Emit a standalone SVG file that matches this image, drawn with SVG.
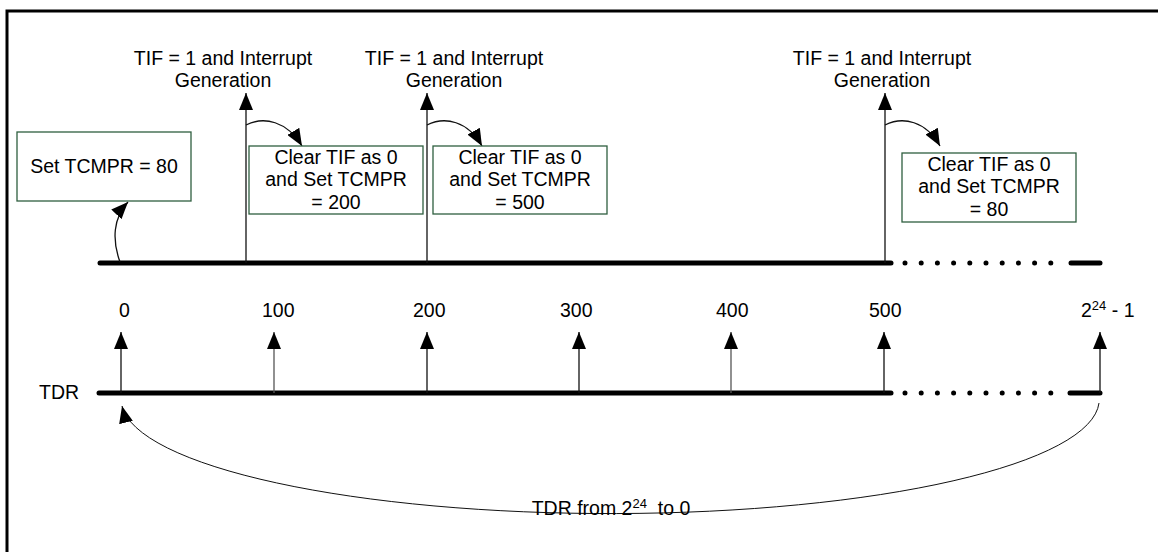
<svg xmlns="http://www.w3.org/2000/svg" width="1158" height="552" viewBox="0 0 1158 552">
<style>
text{font-family:"Liberation Sans",Arial,sans-serif;font-size:19.5px;fill:#000}
.box{fill:#fff;stroke:#2f5f3f;stroke-width:1.3}
.thick{stroke:#000;stroke-width:5;stroke-linecap:round;fill:none}
.dots{stroke:#000;stroke-width:5;stroke-linecap:round;stroke-dasharray:0 16.2;fill:none}
.ar{stroke:#111;stroke-width:1.3;fill:none;marker-end:url(#ah)}
.c{text-anchor:middle}
</style>
<defs>
<marker id="ah" viewBox="0 0 17 14" refX="17" refY="7" markerWidth="17" markerHeight="14" markerUnits="userSpaceOnUse" orient="auto">
<path d="M0,0 L17,7 L0,14 z" fill="#000"/>
</marker>
</defs>
<rect x="7" y="11" width="1170" height="560" fill="#fff" stroke="#000" stroke-width="3"/>

<g id="connectors">
<!-- timelines -->
<line class="thick" x1="100" y1="263" x2="891" y2="263"/>
<line class="dots" x1="905" y1="263" x2="1067" y2="263"/>
<line class="thick" x1="1071" y1="263" x2="1100" y2="263"/>
<line class="thick" x1="99" y1="393" x2="891" y2="393"/>
<line class="dots" x1="905" y1="393" x2="1067" y2="393"/>
<line class="thick" x1="1070" y1="393" x2="1100" y2="393"/>
<!-- top interrupt arrows -->
<line class="ar" x1="246" y1="263" x2="246" y2="93"/>
<line class="ar" x1="427" y1="263" x2="427" y2="93"/>
<line class="ar" x1="885" y1="263" x2="885" y2="93"/>
<!-- small curved arrows -->
<path class="ar" d="M120,262 C112,240 113,218 128,202"/>
<path class="ar" d="M246,125 C264,116 287,121 302,146"/>
<path class="ar" d="M427,125 C445,116 468,121 482,146"/>
<path class="ar" d="M885,125 C903,116 926,121 940,146"/>
<!-- tick arrows -->
<line class="ar" x1="121" y1="393" x2="121" y2="332"/>
<line class="ar" x1="274" y1="393" x2="274" y2="332" style="stroke:#555"/>
<line class="ar" x1="427" y1="393" x2="427" y2="332"/>
<line class="ar" x1="579" y1="393" x2="579" y2="332"/>
<line class="ar" x1="731" y1="393" x2="731" y2="332" style="stroke:#555"/>
<line class="ar" x1="884" y1="393" x2="884" y2="332"/>
<line class="ar" x1="1100" y1="393" x2="1100" y2="332"/>
<!-- wrap-around arc -->
<path class="ar" d="M1099,403 A489,114 0 0 1 122,406" style="stroke-width:1"/>
</g>

<g id="label-int1">
<text class="c" x="223" y="65">TIF = 1 and Interrupt</text>
<text class="c" x="223" y="87">Generation</text>
</g>
<g id="label-int2">
<text class="c" x="454" y="65">TIF = 1 and Interrupt</text>
<text class="c" x="454" y="87">Generation</text>
</g>
<g id="label-int3">
<text class="c" x="882" y="65">TIF = 1 and Interrupt</text>
<text class="c" x="882" y="87">Generation</text>
</g>

<g id="box-set80">
<rect class="box" x="17" y="132" width="174" height="69"/>
<text class="c" x="104" y="173">Set TCMPR = 80</text>
</g>
<g id="box-set200">
<rect class="box" x="249" y="146" width="174" height="68"/>
<text class="c" x="336" y="163.5">Clear TIF as 0</text>
<text class="c" x="336" y="186">and Set TCMPR</text>
<text class="c" x="336" y="208.5">= 200</text>
</g>
<g id="box-set500">
<rect class="box" x="433" y="146" width="174" height="68"/>
<text class="c" x="520" y="163.5">Clear TIF as 0</text>
<text class="c" x="520" y="186">and Set TCMPR</text>
<text class="c" x="520" y="208.5">= 500</text>
</g>
<g id="box-set80b">
<rect class="box" x="902" y="153" width="174" height="69"/>
<text class="c" x="989" y="170.5">Clear TIF as 0</text>
<text class="c" x="989" y="193">and Set TCMPR</text>
<text class="c" x="989" y="215.5">= 80</text>
</g>

<g id="tick-labels">
<text x="119" y="317">0</text>
<text x="262" y="317">100</text>
<text x="413" y="317">200</text>
<text x="560" y="317">300</text>
<text x="716" y="317">400</text>
<text x="869" y="317">500</text>
<text x="1081" y="317">2<tspan font-size="13" dy="-7">24</tspan><tspan dy="7"> - 1</tspan></text>
</g>
<g id="label-tdr">
<text x="39" y="399">TDR</text>
</g>
<g id="label-wrap">
<text class="c" x="611" y="515">TDR from 2<tspan font-size="13" dy="-7">24</tspan><tspan dy="7" xml:space="preserve">  to 0</tspan></text>
</g>
</svg>
